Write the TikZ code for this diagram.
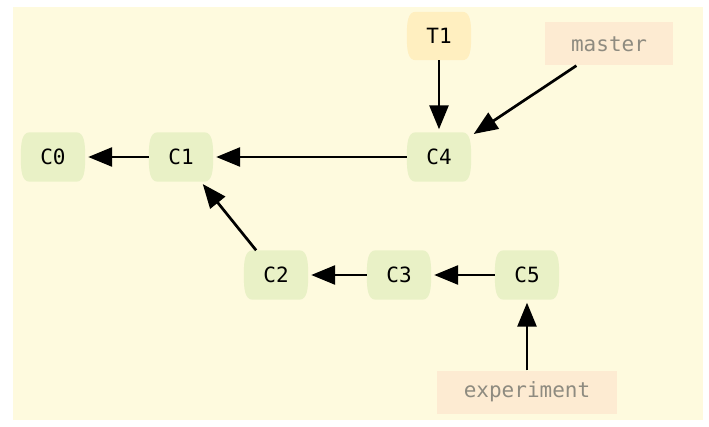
\documentclass[tikz,border=0pt]{standalone}
\usepackage{fontspec}
\setmonofont{DejaVu Sans Mono}
\usetikzlibrary{arrows.meta,calc}
\definecolor{bgcol}{HTML}{FEFADE}
\definecolor{commitfill}{HTML}{E9F1C6}
\definecolor{tagfill}{HTML}{FFEFC0}
\definecolor{reffill}{HTML}{FDEBD2}
\definecolor{reftext}{HTML}{8E8B80}
\pgfdeclarelayer{back}\pgfsetlayers{back,main}
\tikzset{
 every node/.style={font=\ttfamily\fontsize{21}{21}\selectfont},
 commit/.style={minimum width=64pt,minimum height=49pt,inner sep=0pt},
 refbox/.style={fill=reffill,text=reftext,minimum height=43pt,inner sep=0pt},
 link/.style={line width=2.7pt,-{Triangle[length=24pt,width=19pt]},shorten >=3pt},
}
\newcommand\barrelshape[2]{%
 \fill[#2] ($(#1.north west)+(9pt,0)$) -- ($(#1.north east)+(-9pt,0)$)
 .. controls ($(#1.north east)+(-1pt,0)$) and ($(#1.east)+(0,14pt)$) .. (#1.east)
 .. controls ($(#1.east)+(0,-14pt)$) and ($(#1.south east)+(-1pt,0)$) .. ($(#1.south east)+(-9pt,0)$)
 -- ($(#1.south west)+(9pt,0)$)
 .. controls ($(#1.south west)+(1pt,0)$) and ($(#1.west)+(0,-14pt)$) .. (#1.west)
 .. controls ($(#1.west)+(0,14pt)$) and ($(#1.north west)+(1pt,0)$) .. cycle;}
\begin{document}
\begin{tikzpicture}[x=1pt,y=-1pt]
\useasboundingbox (0,0) rectangle (709,427);
\node[commit] (c0) at (53,157) {C0};
\node[commit] (c1) at (181,157) {C1};
\node[commit] (c4) at (439,157) {C4};
\node[commit,minimum height=48pt] (t1) at (439,36) {T1};
\node[commit] (c2) at (276,275) {C2};
\node[commit] (c3) at (399,275) {C3};
\node[commit] (c5) at (527,275) {C5};
\node[refbox,minimum width=128pt] (master) at (609,44) {master};
\node[refbox,minimum width=180pt] (exp) at (527,392) {experiment};
\begin{pgfonlayer}{back}
\fill[white] (0,0) rectangle (709,427);
\fill[bgcol] (13,7) rectangle (703,420);
\foreach \n in {c0,c1,c4,c2,c3,c5} {\barrelshape{\n}{commitfill}}
\barrelshape{t1}{tagfill}
\end{pgfonlayer}
\draw[link] (c1) -- (c0);
\draw[link] (c4) -- (c1);
\draw[link] (c2) -- (c1);
\draw[link] (c3) -- (c2);
\draw[link] (c5) -- (c3);
\draw[link] (t1) -- (c4);
\draw[link] (master) -- (c4);
\draw[link] (exp) -- (c5);
\end{tikzpicture}
\end{document}
